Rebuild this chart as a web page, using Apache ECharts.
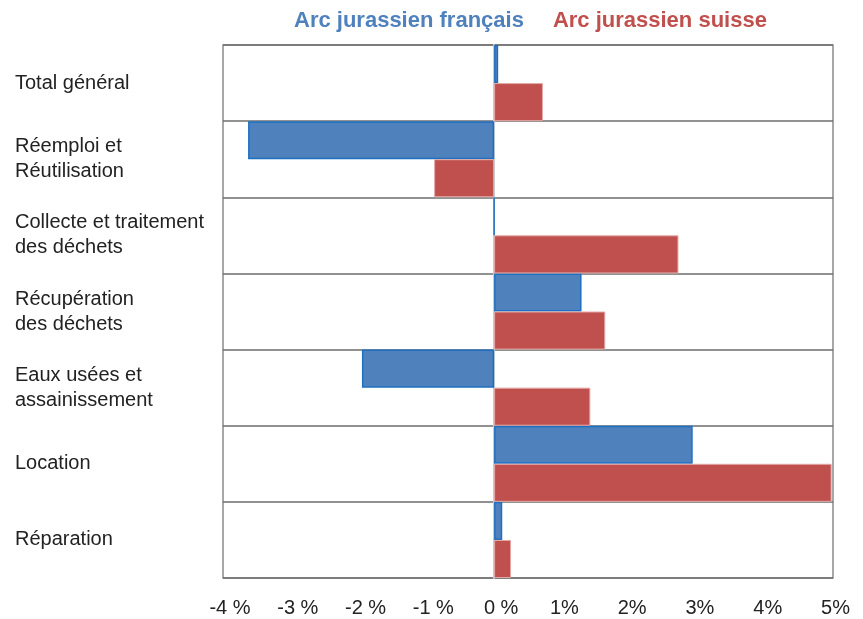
<!DOCTYPE html>
<html><head><meta charset="utf-8">
<script src="https://cdn.jsdelivr.net/npm/echarts@6/dist/echarts.min.js"></script>
<style>html,body{margin:0;padding:0;background:#fff}#c{width:863px;height:619px}</style>
</head><body><div id="c"></div>
<script>
const categories = ["Total général","Réemploi et\nRéutilisation","Collecte et traitement\ndes déchets","Récupération\ndes déchets","Eaux usées et\nassainissement","Location","Réparation"];
const seriesNames = ["Arc jurassien français","Arc jurassien suisse"];
const francais = [0.06, -3.63, 0.0, 1.29, -1.95, 2.93, 0.12];
const suisse = [0.72, -0.885, 2.72, 1.64, 1.42, 4.98, 0.25];
const xTicks = [-4,-3,-2,-1,0,1,2,3,4,5];

const font = "'Liberation Sans', Arial, sans-serif";
const chart = echarts.init(document.getElementById('c'), null, {renderer:'canvas'});
chart.setOption({
  animation:false,
  backgroundColor:'#fff',
  legend:{
    top:5, left:284, itemWidth:0, itemHeight:0, itemGap:24, icon:'none',
    data:[
      {name:seriesNames[0], textStyle:{color:'#4f81bd'}},
      {name:seriesNames[1], textStyle:{color:'#c0504d'}}
    ],
    textStyle:{fontFamily:font, fontSize:22, fontWeight:'bold'}
  },
  grid:{left:223, right:30, top:45, bottom:41, show:true, borderColor:'#8a8a8a', borderWidth:1.5},
  xAxis:{
    type:'value', min:xTicks[0], max:xTicks[xTicks.length-1], interval:1,
    axisLine:{show:false}, axisTick:{show:false}, splitLine:{show:false},
    axisLabel:{fontFamily:font, fontSize:20, color:'#222', margin:20,
      formatter:v => v<=0 ? '{n|'+v+' %}' : '{p|'+v+'%}',
      rich:{
        n:{fontFamily:font, fontSize:20, color:'#222', padding:[0,0,0,14]},
        p:{fontFamily:font, fontSize:20, color:'#222', padding:[0,0,0,5]}
      }}
  },
  yAxis:{
    type:'category', data:categories, inverse:true,
    axisLine:{show:true, onZero:true, lineStyle:{color:'#c3ccd6', width:2}},
    axisTick:{show:false},
    splitLine:{show:true, lineStyle:{color:'#6e6e6e', width:1.5}},
    axisLabel:{fontFamily:font, fontSize:20, color:'#222', align:'left', margin:208, lineHeight:25}
  },
  series:[
    {name:seriesNames[0], type:'bar', data:francais, barGap:'0%', barCategoryGap:'0%',
     itemStyle:{color:'#4f81bd', borderColor:'#1f6fc0', borderWidth:1.5}},
    {name:seriesNames[1], type:'bar', data:suisse, barGap:'0%', barCategoryGap:'0%',
     itemStyle:{color:'#c0504d', borderColor:'#e3a8a6', borderWidth:1}}
  ]
});
</script></body></html>
